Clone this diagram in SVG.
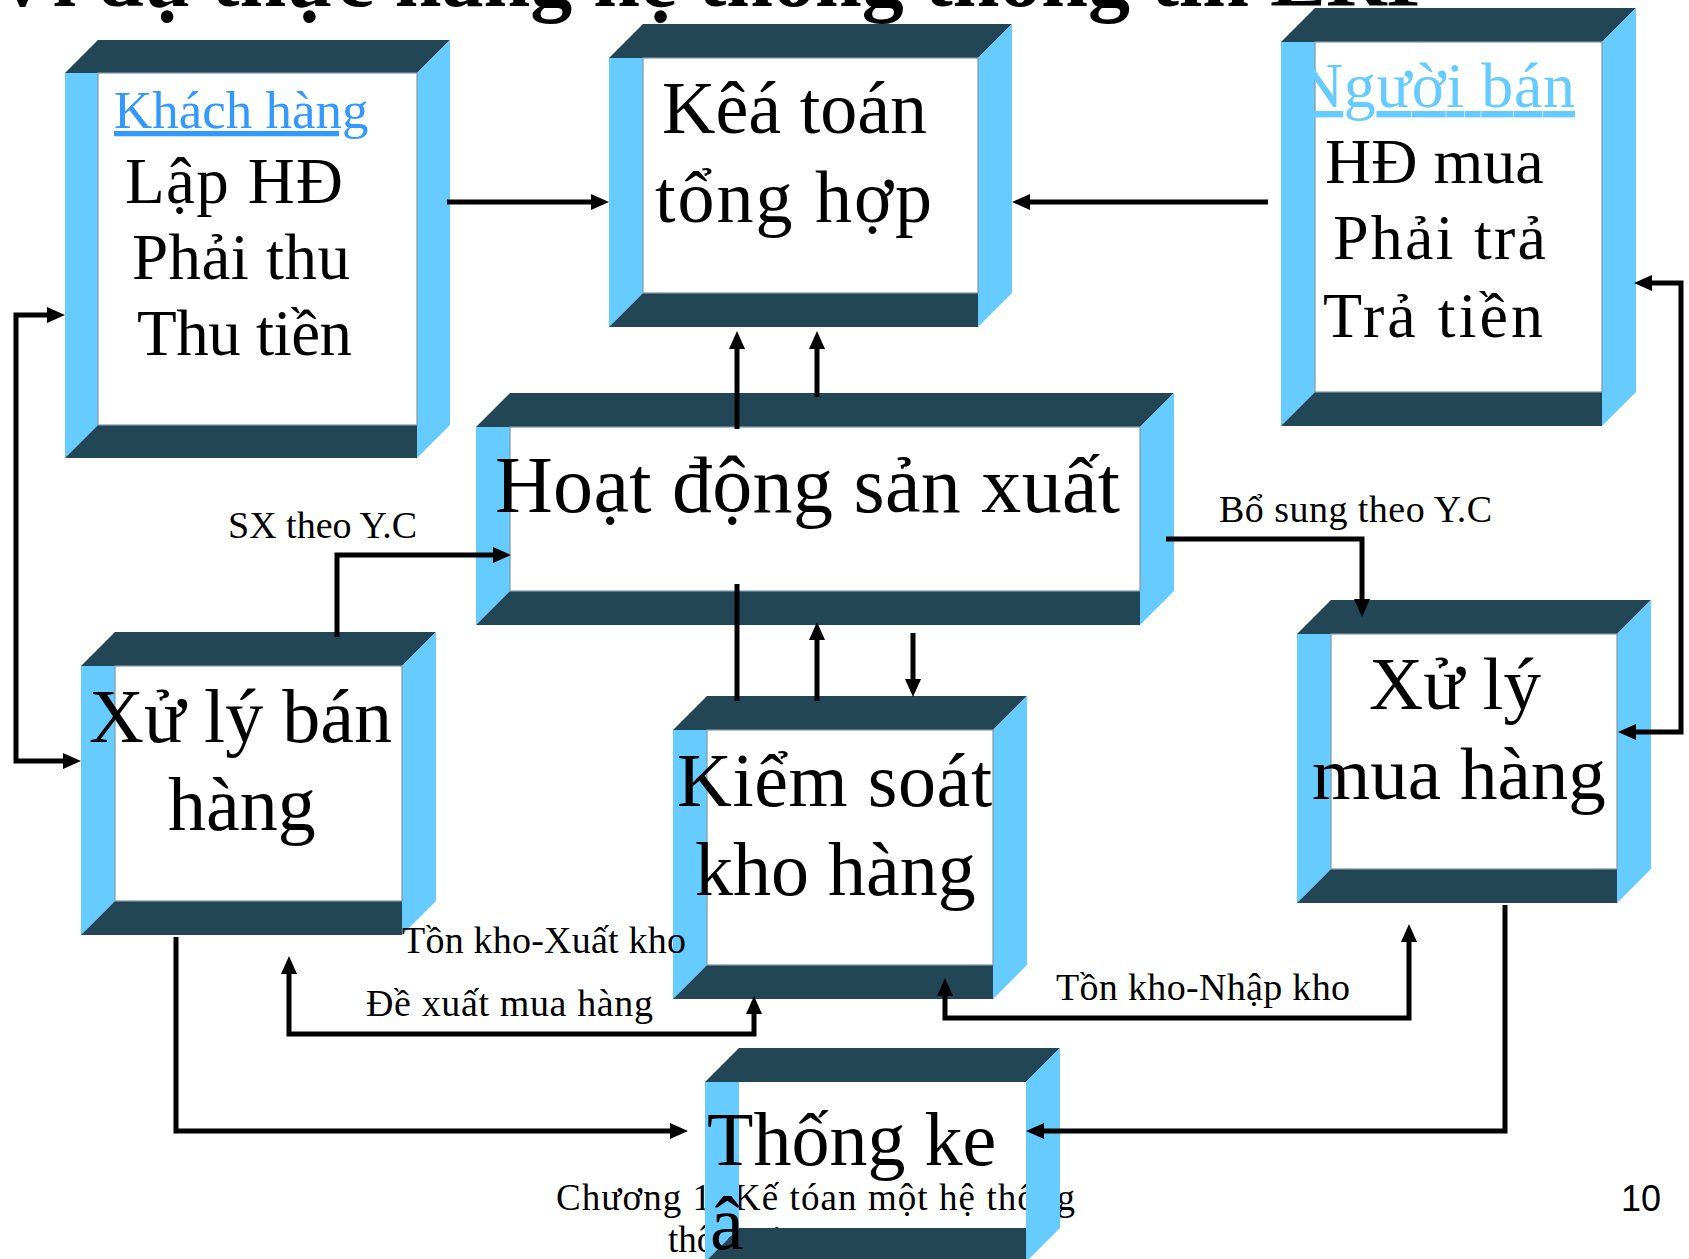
<svg xmlns="http://www.w3.org/2000/svg" width="1689" height="1259" viewBox="0 0 1689 1259">
  <style>
    .band { fill: #234657; }
    .side { fill: #66CCFF; }
    .face { fill: #FFFFFF; stroke: #7F9AA8; stroke-width: 1.2; }
    .serif { font-family: "Liberation Serif", "Times New Roman", serif; fill: #000; }
    .big { font-size: 76px; }
    .mid { font-size: 65px; }
    .lbl { font-size: 38px; }
    .wire { fill: none; stroke: #000; stroke-width: 5; stroke-linejoin: miter; }
    .one { marker-end: url(#head); }
    .two { marker-start: url(#head); marker-end: url(#head); }
  </style>
  <defs>
    <marker id="head" viewBox="0 0 18 16" refX="3" refY="8" markerWidth="18" markerHeight="16" markerUnits="userSpaceOnUse" orient="auto-start-reverse">
      <path d="M0,0 L18,8 L0,16 Z" fill="#000"/>
    </marker>
  </defs>

  <rect width="1689" height="1259" fill="#FFFFFF"/>

  <!-- slide title, mostly above the visible area -->
  <text class="serif" x="-8" y="6" font-size="84" font-weight="bold">Ví dụ thực hàng hệ thống thông tin ERP</text>

  <!-- slide footer (partly hidden behind the Thống kê frame) -->
  <g id="footer">
    <text class="serif" x="556" y="1210" font-size="37" textLength="519" lengthAdjust="spacing">Chương 1: Kế tóan một hệ thống</text>
    <text class="serif" x="668" y="1252" font-size="37">thông tin</text>
  </g>

  <g id="nodes">
    <g id="khach-hang">
      <polygon class="band" points="98,40 450,40 417,73 65,73"/>
      <polygon class="side" points="65,73 98,73 98,425 65,458"/>
      <polygon class="band" points="98,425 417,425 417,458 65,458"/>
      <polygon class="side" points="417,73 450,40 450,425 417,458"/>
      <rect class="face" x="98" y="73" width="319" height="352"/>
      <text class="serif" x="114" y="128" font-size="53" style="fill:#3399FF" text-decoration="underline">Khách hàng</text>
      <text class="serif mid" x="125" y="203" textLength="218" lengthAdjust="spacing">Lập HĐ</text>
      <text class="serif mid" x="132" y="279" textLength="218" lengthAdjust="spacing">Phải thu</text>
      <text class="serif mid" x="137" y="355" textLength="215" lengthAdjust="spacing">Thu tiền</text>
    </g>

    <g id="ke-toan-tong-hop">
      <polygon class="band" points="643,24 1012,24 978,58 609,58"/>
      <polygon class="side" points="609,58 643,58 643,293 609,327"/>
      <polygon class="band" points="643,293 978,293 978,327 609,327"/>
      <polygon class="side" points="978,58 1012,24 1012,293 978,327"/>
      <rect class="face" x="643" y="58" width="335" height="235"/>
      <text class="serif" x="662" y="133" font-size="74">Kêá toán</text>
      <text class="serif" x="655" y="222" font-size="74" textLength="277" lengthAdjust="spacing">tổng hợp</text>
    </g>

    <g id="nguoi-ban">
      <polygon class="band" points="1315,8 1636,8 1602,42 1281,42"/>
      <polygon class="side" points="1281,42 1315,42 1315,392 1281,426"/>
      <polygon class="band" points="1315,392 1602,392 1602,426 1281,426"/>
      <polygon class="side" points="1602,42 1636,8 1636,392 1602,426"/>
      <rect class="face" x="1315" y="42" width="287" height="350"/>
      <text class="serif" x="1297" y="107" font-size="64" style="fill:#66CCFF" text-decoration="underline" textLength="278" lengthAdjust="spacing">Người bán</text>
      <text class="serif" x="1325" y="183" font-size="64">HĐ mua</text>
      <text class="serif" x="1333" y="259" font-size="64" textLength="213" lengthAdjust="spacing">Phải trả</text>
      <text class="serif" x="1323" y="337" font-size="64" textLength="220" lengthAdjust="spacing">Trả tiền</text>
    </g>

    <g id="hoat-dong-san-xuat">
      <polygon class="band" points="510,393 1174,393 1140,427 476,427"/>
      <polygon class="side" points="476,427 510,427 510,591 476,625"/>
      <polygon class="band" points="510,591 1140,591 1140,625 476,625"/>
      <polygon class="side" points="1140,427 1174,393 1174,591 1140,625"/>
      <rect class="face" x="510" y="427" width="630" height="164"/>
      <text class="serif" x="495" y="512" font-size="80" textLength="625" lengthAdjust="spacing">Hoạt động sản xuất</text>
    </g>

    <g id="xu-ly-ban-hang">
      <polygon class="band" points="115,632 436,632 402,666 81,666"/>
      <polygon class="side" points="81,666 115,666 115,901 81,935"/>
      <polygon class="band" points="115,901 402,901 402,935 81,935"/>
      <polygon class="side" points="402,666 436,632 436,901 402,935"/>
      <rect class="face" x="115" y="666" width="287" height="235"/>
      <text class="serif big" x="89" y="742">Xử lý bán</text>
      <text class="serif big" x="168" y="830">hàng</text>
    </g>

    <g id="kiem-soat-kho-hang">
      <polygon class="band" points="707,696 1027,696 993,730 673,730"/>
      <polygon class="side" points="673,730 707,730 707,965 673,999"/>
      <polygon class="band" points="707,965 993,965 993,999 673,999"/>
      <polygon class="side" points="993,730 1027,696 1027,965 993,999"/>
      <rect class="face" x="707" y="730" width="286" height="235"/>
      <text class="serif big" x="677" y="806" textLength="315" lengthAdjust="spacing">Kiểm soát</text>
      <text class="serif big" x="695" y="895">kho hàng</text>
    </g>

    <g id="xu-ly-mua-hang">
      <polygon class="band" points="1331,600 1651,600 1617,634 1297,634"/>
      <polygon class="side" points="1297,634 1331,634 1331,869 1297,903"/>
      <polygon class="band" points="1331,869 1617,869 1617,903 1297,903"/>
      <polygon class="side" points="1617,634 1651,600 1651,869 1617,903"/>
      <rect class="face" x="1331" y="634" width="286" height="235"/>
      <text class="serif" x="1369" y="709" font-size="75">Xử lý</text>
      <text class="serif" x="1312" y="799" font-size="75">mua hàng</text>
    </g>

    <!-- open frame: footer text shows through its centre -->
    <g id="thong-ke">
      <polygon class="band" points="739,1048 1060,1048 1026,1082 705,1082"/>
      <polygon class="side" points="705,1082 739,1082 739,1228 705,1262"/>
      <polygon class="band" points="739,1228 1026,1228 1026,1262 705,1262"/>
      <polygon class="side" points="1026,1082 1060,1048 1060,1228 1026,1262"/>
      <text class="serif big" x="707" y="1165">Thống ke</text>
      <text class="serif big" x="710" y="1249">â</text>
    </g>
  </g>

  <g id="connectors">
    <path class="wire one" d="M447,202 H594"/>
    <path class="wire one" d="M1268,202 H1027"/>
    <path class="wire two" d="M50,315 H16 V761 H66"/>
    <path class="wire two" d="M1649,283 H1681 V732 H1633"/>
    <path class="wire one" d="M737,429 V346"/>
    <path class="wire" d="M737,584 V701"/>
    <path class="wire one" d="M817,397 V346"/>
    <path class="wire one" d="M817,701 V637"/>
    <path class="wire one" d="M913,633 V682"/>
    <path class="wire one" d="M337,637 V555 H496"/>
    <path class="wire one" d="M1166,539 H1362 V602"/>
    <path class="wire one" d="M176,937 V1131 H673"/>
    <path class="wire one" d="M1505,905 V1131 H1041"/>
    <path class="wire two" d="M289,971 V1034 H754 V1011"/>
    <path class="wire two" d="M1409,939 V1018 H945 V993"/>
  </g>

  <g id="labels">
    <text class="serif lbl" x="228" y="538">SX theo Y.C</text>
    <text class="serif lbl" x="1219" y="522" textLength="273" lengthAdjust="spacing">Bổ sung theo Y.C</text>
    <text class="serif lbl" x="402" y="953" textLength="284" lengthAdjust="spacing">Tồn kho-Xuất kho</text>
    <text class="serif lbl" x="366" y="1016" textLength="287" lengthAdjust="spacing">Đề xuất mua hàng</text>
    <text class="serif lbl" x="1056" y="1000" textLength="294" lengthAdjust="spacing">Tồn kho-Nhập kho</text>
  </g>

  <text x="1621" y="1211" font-family="Liberation Sans, Arial, sans-serif" font-size="36" fill="#000">10</text>
</svg>
